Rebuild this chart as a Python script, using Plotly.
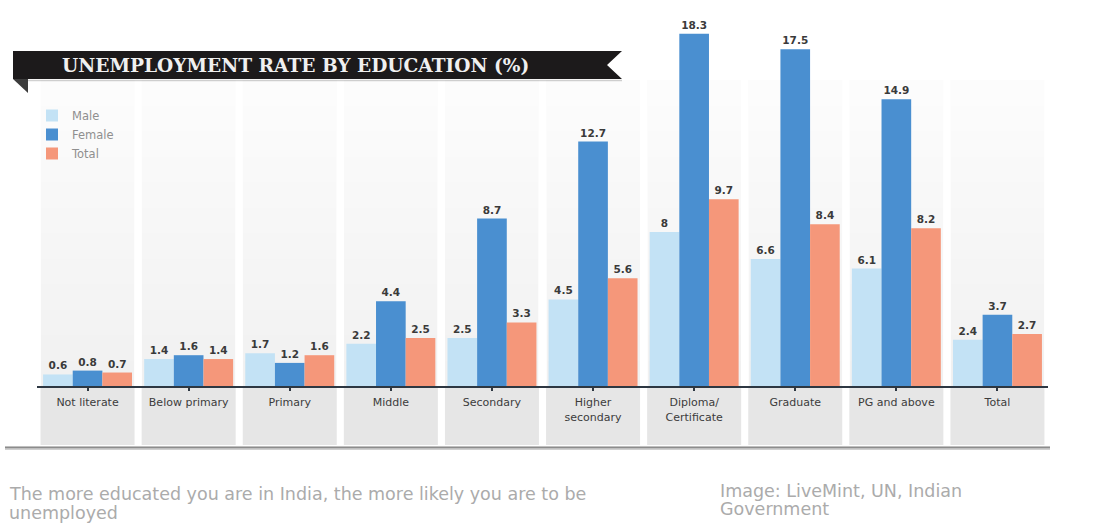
import plotly.graph_objects as go

# Unemployment rate (%) by level of education, India
categories = ["Not literate", "Below primary", "Primary", "Middle", "Secondary",
              "Higher<br>secondary", "Diploma/<br>Certificate", "Graduate",
              "PG and above", "Total"]
male = [0.6, 1.4, 1.7, 2.2, 2.5, 4.5, 8, 6.6, 6.1, 2.4]
female = [0.8, 1.6, 1.2, 4.4, 8.7, 12.7, 18.3, 17.5, 14.9, 3.7]
total = [0.7, 1.4, 1.6, 2.5, 3.3, 5.6, 9.7, 8.4, 8.2, 2.7]

series = [("Male", male, "#c3e2f5"),
          ("Female", female, "#4a8fd0"),
          ("Total", total, "#f5977a")]

W, H = 1093, 525
ML, MR, MT, MB = 37, 45, 1, 139
PW, PH = W - ML - MR, H - MT - MB
BASE = MT + PH  # pixel row of the category axis


def px_x(p):
    return (p - ML) / PW


def px_y(p):
    return (BASE - p) / PH


fig = go.Figure()
for name, vals, color in series:
    fig.add_trace(go.Bar(
        name=name, x=categories, y=vals, marker=dict(color=color, line=dict(width=0)),
        text=[f"{v:g}" for v in vals], textposition="outside",
        textfont=dict(family="DejaVu Sans", size=10.5, color="#3a3a3a", weight="bold"),
        cliponaxis=False,
    ))

shapes = []
panel_top = 15.9
half = 0.465
for i in range(len(categories)):
    # light panel above the axis, shaded darker toward the baseline
    shapes.append(dict(type="rect", xref="x", yref="y", x0=i - half, x1=i + half,
                       y0=0, y1=panel_top, fillcolor="#fcfcfc", line=dict(width=0),
                       layer="below"))
    steps = 12
    for k in range(1, steps):
        shapes.append(dict(type="rect", xref="x", yref="y", x0=i - half, x1=i + half,
                           y0=0, y1=panel_top * (1 - k / steps),
                           fillcolor="rgba(0,0,0,0.0055)", line=dict(width=0),
                           layer="below"))
    # grey block behind the category labels
    shapes.append(dict(type="rect", xref="x", yref="paper", x0=i - half, x1=i + half,
                       y0=px_y(445), y1=0, fillcolor="#e6e6e6", line=dict(width=0),
                       layer="below"))

# shadow rule under the label band
shapes.append(dict(type="line", xref="paper", yref="paper", x0=px_x(5), x1=px_x(1050),
                   y0=px_y(448), y1=px_y(448), line=dict(color="rgba(120,120,120,0.35)", width=4)))
shapes.append(dict(type="line", xref="paper", yref="paper", x0=px_x(5), x1=px_x(1050),
                   y0=px_y(447.5), y1=px_y(447.5), line=dict(color="#8c8c8c", width=1.5)))

# title ribbon with notched end and folded corner
ribbon = (f"M {px_x(13)},{px_y(51)} L {px_x(622)},{px_y(51)} L {px_x(607)},{px_y(65)} "
          f"L {px_x(622)},{px_y(79)} L {px_x(13)},{px_y(79)} Z")
shapes.append(dict(type="path", xref="paper", yref="paper", path=ribbon,
                   fillcolor="#1c1a1b", line=dict(width=0)))
fold = f"M {px_x(13)},{px_y(79)} L {px_x(28)},{px_y(79)} L {px_x(28)},{px_y(93)} Z"
shapes.append(dict(type="path", xref="paper", yref="paper", path=fold,
                   fillcolor="#3c3c3c", line=dict(width=0)))
shapes.append(dict(type="line", xref="paper", yref="paper", x0=px_x(28), x1=px_x(622),
                   y0=px_y(80.5), y1=px_y(80.5), line=dict(color="rgba(0,0,0,0.18)", width=1.5)))

note_font = dict(family="DejaVu Sans", size=17.5, color="#ababab")
annotations = [
    dict(text="<b>UNEMPLOYMENT RATE BY EDUCATION (%)</b>", xref="paper", yref="paper",
         x=px_x(295), y=px_y(65.5), xanchor="center", yanchor="middle", showarrow=False,
         font=dict(family="DejaVu Serif", size=18.6, color="#f0f0f0")),
    dict(text="The more educated you are in India, the more likely you are to be",
         xref="paper", yref="paper", x=px_x(7), y=px_y(494), xanchor="left", yanchor="middle",
         showarrow=False, font=note_font),
    dict(text="unemployed",
         xref="paper", yref="paper", x=px_x(7), y=px_y(513), xanchor="left", yanchor="middle",
         showarrow=False, font=note_font),
    dict(text="Image: LiveMint, UN, Indian",
         xref="paper", yref="paper", x=px_x(718), y=px_y(491), xanchor="left", yanchor="middle",
         showarrow=False, font=note_font),
    dict(text="Government",
         xref="paper", yref="paper", x=px_x(718), y=px_y(509), xanchor="left", yanchor="middle",
         showarrow=False, font=note_font),
]

fig.update_layout(
    width=W, height=H,
    margin=dict(l=ML, r=MR, t=MT, b=MB),
    paper_bgcolor="white", plot_bgcolor="white",
    barmode="group", bargap=0.12, bargroupgap=0,
    showlegend=True,
    legend=dict(x=px_x(32), y=px_y(101), xanchor="left", yanchor="top",
                orientation="v", bgcolor="rgba(0,0,0,0)", itemwidth=30,
                font=dict(family="DejaVu Sans", size=11.5, color="#8f8f8f")),
    xaxis=dict(type="category", range=[-0.5, len(categories) - 0.5],
               showline=True, linecolor="#2d3742", linewidth=2,
               ticks="outside", ticklen=3, tickwidth=2, tickcolor="#2d3742",
               showgrid=False, ticklabelstandoff=2,
               tickfont=dict(family="DejaVu Sans", size=11, color="#3c3c3c")),
    yaxis=dict(range=[0, 20], visible=False, showgrid=False, zeroline=False),
    shapes=shapes, annotations=annotations,
)

fig.write_html("out.html")
